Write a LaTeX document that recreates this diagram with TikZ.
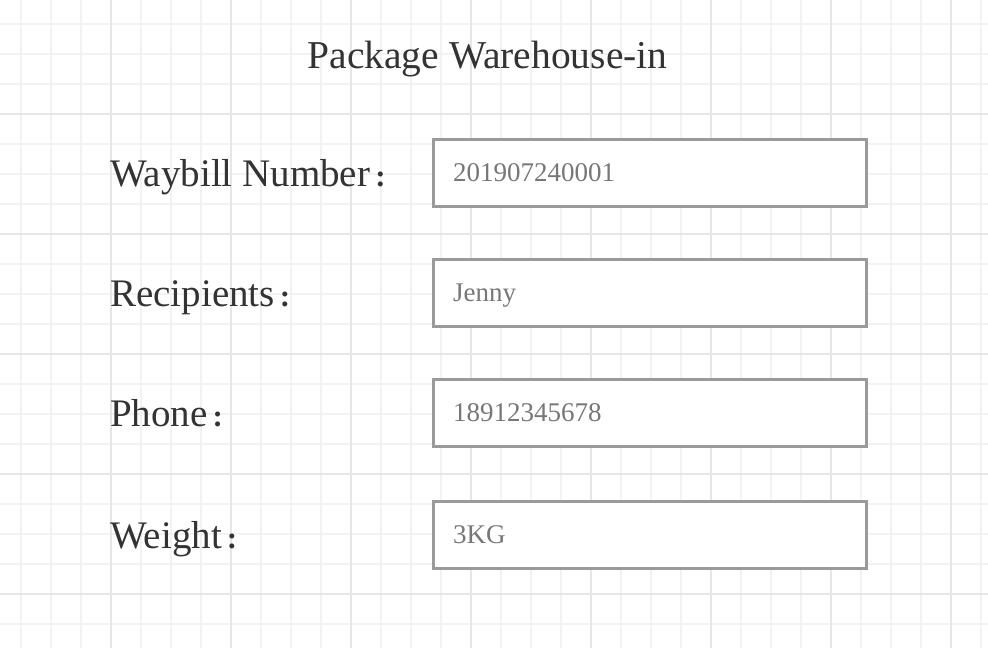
\documentclass[tikz,border=0pt]{standalone}
\usepackage{fontspec}
\setmainfont{Liberation Serif}
\definecolor{minorgrid}{HTML}{F2F2F2}
\definecolor{majorgrid}{HTML}{E6E6E6}
\definecolor{boxline}{HTML}{9A9A9A}
\definecolor{labeltext}{HTML}{333333}
\definecolor{valuetext}{HTML}{777777}
\newcommand{\fieldcolon}{\kern5pt{\fontsize{31}{33}\bfseries\selectfont:}}
\begin{document}
\begin{tikzpicture}[x=1pt, y=-1pt,
    field/.style={draw=boxline, line width=3pt, fill=white, minimum width=433pt, minimum height=67pt, inner sep=0pt, outer sep=0pt},
    lab/.style={anchor=base west, inner sep=0pt, text=labeltext, font=\fontsize{39}{42}\selectfont},
    val/.style={anchor=base west, inner sep=0pt, text=valuetext, font=\fontsize{27}{30}\selectfont}]
      \useasboundingbox (0,0) rectangle (988,648);
      \fill[white] (0,0) rectangle (988,648);

      \foreach \x in {21,51,...,981} \draw[minorgrid, line width=1.5pt] (\x,0) -- (\x,648);
      \foreach \y in {24,54,...,624} \draw[minorgrid, line width=1.5pt] (0,\y) -- (988,\y);
      \foreach \x in {111,231,...,951} \draw[majorgrid, line width=1.5pt] (\x,0) -- (\x,648);
      \foreach \y in {114,234,...,594} \draw[majorgrid, line width=1.5pt] (0,\y) -- (988,\y);

      \node[lab, anchor=base, font=\fontsize{39.5}{42}\selectfont] (title) at (487.5,68) {Package Warehouse-in};

      \foreach \i/\cy/\lbl/\val in {1/173/Waybill Number/201907240001, 2/293/Recipients/Jenny, 3/413/Phone/18912345678, 4/535/Weight/3KG}
      {
        \node[lab] (label\i) at (110,\cy+13) {\lbl\fieldcolon};
        \node[field] (box\i) at (650,\cy) {};
        \node[val] (value\i) at (453,\cy+8) {\val};
      }
    \end{tikzpicture}
\end{document}
